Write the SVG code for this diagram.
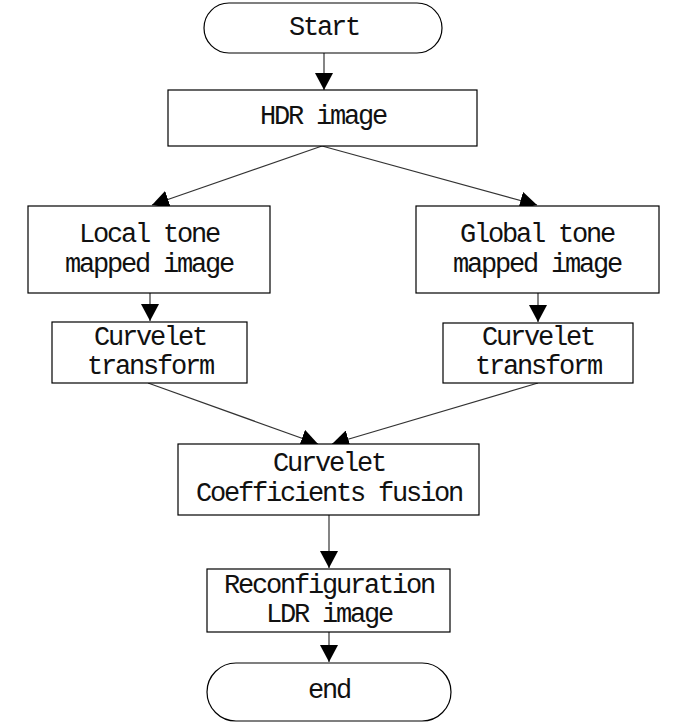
<svg xmlns="http://www.w3.org/2000/svg" width="687" height="726" viewBox="0 0 687 726">
<style>
.box{fill:#fff;stroke:#000;stroke-width:1.2}
.t{font-family:"Liberation Mono","DejaVu Sans Mono",monospace;font-size:27px;letter-spacing:-2.2px;text-anchor:middle;fill:#111}
.c{stroke:#333;stroke-width:1.2;fill:none}
</style>
<defs>
<marker id="ah" markerUnits="userSpaceOnUse" markerWidth="18" markerHeight="18" viewBox="0 0 18 18" refX="17" refY="9" orient="auto">
<path d="M0,0 L17,9 L0,18 Z" fill="#000"/>
</marker>
</defs>
<rect width="687" height="726" fill="#fff"/>
<g id="connectors">
<line class="c" x1="324" y1="53" x2="324" y2="90" marker-end="url(#ah)"/>
<line class="c" x1="322" y1="146" x2="152" y2="205" marker-end="url(#ah)"/>
<line class="c" x1="322" y1="146" x2="537" y2="205" marker-end="url(#ah)"/>
<line class="c" x1="150" y1="293" x2="150" y2="321" marker-end="url(#ah)"/>
<line class="c" x1="538" y1="293" x2="538" y2="322" marker-end="url(#ah)"/>
<line class="c" x1="148" y1="383" x2="318" y2="444" marker-end="url(#ah)"/>
<line class="c" x1="538" y1="383" x2="332" y2="444" marker-end="url(#ah)"/>
<line class="c" x1="329" y1="515" x2="329" y2="568" marker-end="url(#ah)"/>
<line class="c" x1="329" y1="632" x2="329" y2="662" marker-end="url(#ah)"/>
</g>
<g id="start">
<rect class="box" x="204" y="3" width="238" height="50" rx="25"/>
<text class="t" x="324" y="35">Start</text>
</g>
<g id="hdr">
<rect class="box" x="168" y="90" width="309" height="56"/>
<text class="t" x="323" y="124">HDR image</text>
</g>
<g id="local">
<rect class="box" x="28" y="206" width="242" height="87"/>
<text class="t" x="149" y="242">Local tone</text>
<text class="t" x="149" y="272">mapped image</text>
</g>
<g id="global">
<rect class="box" x="416" y="206" width="243" height="87"/>
<text class="t" x="537" y="242">Global tone</text>
<text class="t" x="537" y="272">mapped image</text>
</g>
<g id="curvelet-left">
<rect class="box" x="52" y="322" width="195" height="61"/>
<text class="t" x="150" y="345">Curvelet</text>
<text class="t" x="150" y="374">transform</text>
</g>
<g id="curvelet-right">
<rect class="box" x="443" y="323" width="190" height="60"/>
<text class="t" x="538" y="345">Curvelet</text>
<text class="t" x="538" y="374">transform</text>
</g>
<g id="fusion">
<rect class="box" x="178" y="444" width="301" height="71"/>
<text class="t" x="329" y="471">Curvelet</text>
<text class="t" x="329" y="501">Coefficients fusion</text>
</g>
<g id="reconf">
<rect class="box" x="207" y="569" width="243" height="63"/>
<text class="t" x="329" y="593">Reconfiguration</text>
<text class="t" x="329" y="622">LDR image</text>
</g>
<g id="end">
<rect class="box" x="207" y="663" width="244" height="58" rx="29"/>
<text class="t" x="329" y="698">end</text>
</g>
</svg>
